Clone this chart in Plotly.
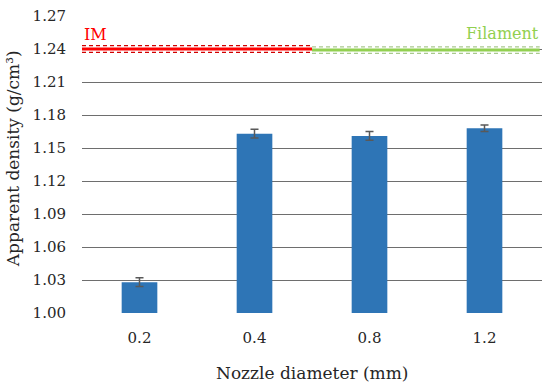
import plotly.graph_objects as go

categories = ["0.2", "0.4", "0.8", "1.2"]
density = [1.028, 1.163, 1.161, 1.168]
density_err = [0.004, 0.004, 0.004, 0.003]
im_density = 1.240
im_err = 0.003
filament_density = 1.239
filament_err = 0.003
y_ticks = [1.00, 1.03, 1.06, 1.09, 1.12, 1.15, 1.18, 1.21, 1.24, 1.27]

FONT = "DejaVu Serif"
TXT = "#262626"
xs = list(range(len(categories)))

fig = go.Figure()
fig.add_trace(go.Bar(
    x=xs, y=[d - 1.0 for d in density], base=1.0,
    marker=dict(color="#2E75B6", line=dict(width=0)),
    width=0.31,
    error_y=dict(type="data", array=density_err, color="#595959", thickness=1.5, width=4),
    showlegend=False,
))

def ref_band(x0, x1, val, err, solid_color, dash_color):
    fig.add_trace(go.Scatter(x=[x0, x1], y=[val, val], mode="lines",
                             line=dict(color=solid_color, width=3), showlegend=False))
    for v in (val - err, val + err):
        fig.add_trace(go.Scatter(x=[x0, x1], y=[v, v], mode="lines",
                                 line=dict(color=dash_color, width=1.3, dash="4px,3px"),
                                 showlegend=False))

ref_band(-0.5, 1.5, im_density, im_err, "#FF0000", "#D00000")
ref_band(1.5, 3.48, filament_density, filament_err, "#92D050", "#A9C98E")

fig.add_annotation(x=-0.5, y=im_density, xref="x", yref="y", text="IM",
                   showarrow=False, xanchor="left", yanchor="bottom", yshift=3,
                   font=dict(family=FONT, size=16, color="#FF0000"))
fig.add_annotation(x=3.49, y=filament_density, xref="x", yref="y", text="Filament",
                   showarrow=False, xanchor="right", yanchor="bottom", yshift=5,
                   font=dict(family=FONT, size=16, color="#92D050"))

# axis titles
fig.add_annotation(x=0.5, y=-0.202, xref="paper", yref="paper", text="Nozzle diameter (mm)",
                   showarrow=False, xanchor="center", yanchor="middle",
                   font=dict(family=FONT, size=17, color=TXT))
fig.add_annotation(x=-0.1500, y=0.518, xref="paper", yref="paper", text="Apparent density (g/cm³)",
                   showarrow=False, xanchor="center", yanchor="middle", textangle=-90,
                   font=dict(family=FONT, size=17, color=TXT))

fig.update_layout(
    width=550, height=387,
    margin=dict(l=82, r=8, t=16, b=74, autoexpand=False),
    plot_bgcolor="white", paper_bgcolor="white",
    font=dict(family=FONT, size=15, color=TXT),
    xaxis=dict(
        tickmode="array", tickvals=xs, ticktext=categories,
        range=[-0.5, 3.5], showgrid=False, zeroline=False,
        showline=False, ticks="outside", ticklen=11, tickcolor="rgba(0,0,0,0)",
        automargin=False,
        tickfont=dict(family=FONT, size=15, color=TXT),
    ),
    yaxis=dict(
        range=[1.0, 1.27], tickmode="array", tickvals=y_ticks,
        ticktext=[f"{v:.2f}" for v in y_ticks],
        showgrid=True, gridcolor="#6E6E6E", gridwidth=1,
        zeroline=False, showline=False,
        ticks="outside", ticklen=12, tickcolor="rgba(0,0,0,0)",
        automargin=False,
        tickfont=dict(family=FONT, size=15, color=TXT),
    ),
)

fig.write_html("out.html", config={"displayModeBar": False},
               post_script="document.body.style.margin='0';document.body.style.overflow='hidden';")
